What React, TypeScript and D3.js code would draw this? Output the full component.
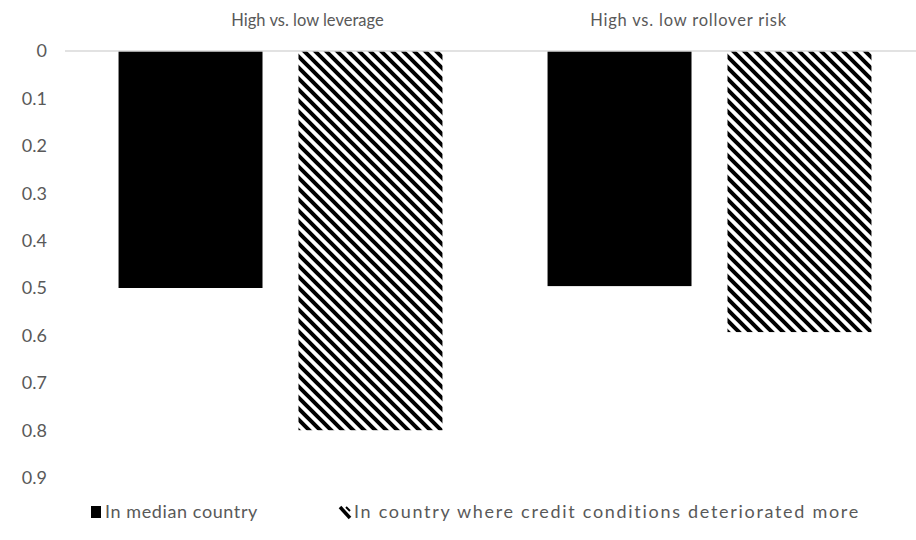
import React, { useRef, useEffect } from 'react';
import * as d3 from 'd3';

const categories = ['High vs. low leverage', 'High vs. low rollover risk'];
const seriesNames = ['In median country', 'In country where credit conditions deteriorated more'];
const medianValues = [0.5, 0.496];
const deterioratedValues = [0.8, 0.593];
const yTicks = [0, 0.1, 0.2, 0.3, 0.4, 0.5, 0.6, 0.7, 0.8, 0.9];
// the titles in the original sit a bit off the band centres
const titleShift = [27, -21];
const titleSpacing = [0, 0.8];

const W = 916;
const H = 540;
const FONT = 'Lato, "Open Sans", sans-serif';
const TEXT = '#595959';

const App = () => {
    const svgRef = useRef<SVGSVGElement>(null);

    useEffect(() => {
        const svg = d3.select(svgRef.current);
        svg.selectAll('*').remove();

        const rows = categories.map((c, i) => ({
            cat: c,
            vals: [medianValues[i], deterioratedValues[i]],
        }));

        // plot area runs past the right edge, like the cropped original
        const x0 = d3.scaleBand().domain(categories).range([66, 924]).paddingInner(0).paddingOuter(0);
        const x1 = d3.scaleBand().domain(['0', '1']).range([0, x0.bandwidth()])
            .paddingInner(0.2).paddingOuter(0.292);
        const y = d3.scaleLinear().domain([0, 0.9]).range([51, 477.6]);

        const defs = svg.append('defs');
        const pat = defs.append('pattern')
            .attr('id', 'hatch')
            .attr('patternUnits', 'userSpaceOnUse')
            .attr('width', 11)
            .attr('height', 11);
        pat.append('rect').attr('width', 11).attr('height', 11).attr('fill', '#fff');
        pat.append('path')
            .attr('d', 'M-3,-3 L14,14 M-3,8 L3,14 M8,-3 L14,3')
            .attr('stroke', '#000')
            .attr('stroke-width', 4);

        // y axis labels (reversed axis)
        svg.append('g')
            .selectAll('text')
            .data(yTicks)
            .enter().append('text')
            .attr('x', 47)
            .attr('y', d => y(d))
            .attr('dy', '0.35em')
            .attr('text-anchor', 'end')
            .attr('fill', TEXT)
            .style('font-family', FONT)
            .style('font-size', '18px')
            .text(d => d3.format('')(d));

        // category labels at top
        svg.append('g')
            .selectAll('text')
            .data(categories)
            .enter().append('text')
            .attr('x', (d, i) => (x0(d) as number) + x0.bandwidth() / 2 + titleShift[i])
            .attr('y', 20)
            .attr('dy', '0.35em')
            .attr('text-anchor', 'middle')
            .attr('fill', TEXT)
            .style('font-family', FONT)
            .style('font-size', '16.5px')
            .style('letter-spacing', (d, i) => `${titleSpacing[i]}px`)
            .text(d => d);

        // bars
        const groups = svg.append('g')
            .selectAll('g')
            .data(rows)
            .enter().append('g')
            .attr('transform', d => `translate(${x0(d.cat)},0)`);

        groups.selectAll('rect')
            .data(d => d.vals.map((v, j) => ({ v, j })))
            .enter().append('rect')
            .attr('x', d => x1(String(d.j)) as number)
            .attr('y', y(0))
            .attr('width', x1.bandwidth())
            .attr('height', d => y(d.v) - y(0))
            .attr('fill', d => d.j === 0 ? '#000' : 'url(#hatch)');

        // zero line
        svg.append('line')
            .attr('x1', 65)
            .attr('x2', W)
            .attr('y1', y(0))
            .attr('y2', y(0))
            .attr('stroke', '#d9d9d9')
            .attr('stroke-width', 1.5);

        // legend
        const leg = svg.append('g').attr('transform', 'translate(0,512)');
        const items = [
            { name: seriesNames[0], x: 91, hatch: false, spacing: 0.6 },
            { name: seriesNames[1], x: 340, hatch: true, spacing: 1.7 },
        ];
        items.forEach(it => {
            if (it.hatch) {
                leg.append('path')
                    .attr('d', `M${it.x},-5 L${it.x + 10},6`)
                    .attr('stroke', '#000')
                    .attr('stroke-width', 3.5);
                leg.append('path')
                    .attr('d', `M${it.x + 6},-5 L${it.x + 10},-1`)
                    .attr('stroke', '#000')
                    .attr('stroke-width', 2);
            } else {
                leg.append('rect')
                    .attr('x', it.x)
                    .attr('y', -6)
                    .attr('width', 10)
                    .attr('height', 12)
                    .attr('fill', '#000');
            }
            leg.append('text')
                .attr('x', it.x + 14)
                .attr('y', 0)
                .attr('dy', '0.35em')
                .attr('fill', TEXT)
                .style('font-family', FONT)
                .style('font-size', '18px')
                .style('letter-spacing', `${it.spacing}px`)
                .text(it.name);
        });
    }, []);

    return (
        <div style={{ position: 'absolute', left: 0, top: 0 }}>
            <svg ref={svgRef} width={W} height={H} style={{ display: 'block' }}></svg>
        </div>
    );
};

export default App;
